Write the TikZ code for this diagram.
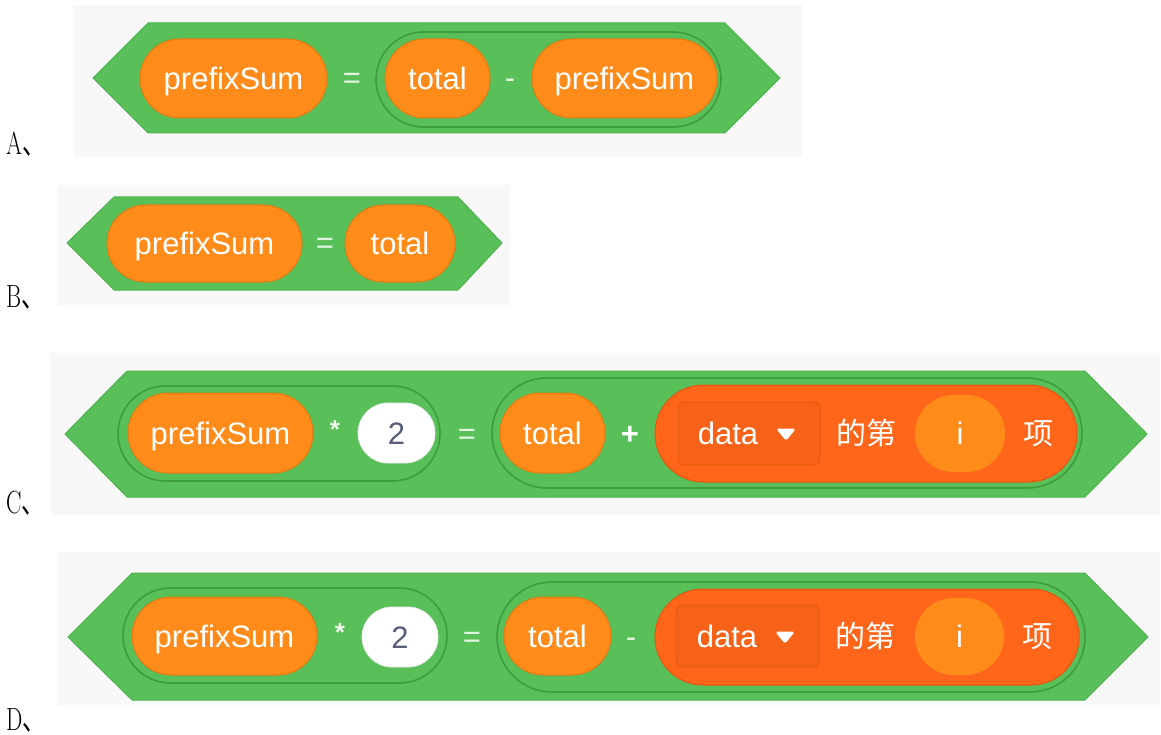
\documentclass[tikz,border=0pt]{standalone}
\usepackage{graphicx}
\usepackage{fontspec}
\newfontfamily\blk{Liberation Sans}
\newfontfamily\cjk{Noto Sans CJK SC}
\usetikzlibrary{shapes.misc}
\definecolor{panelbg}{HTML}{F8F8F8}
\definecolor{opgreen}{HTML}{59C059}
\definecolor{hexedge}{HTML}{4DB24D}
\definecolor{grpedge}{HTML}{3E9C3E}
\definecolor{varorange}{HTML}{FF8C1A}
\definecolor{varedge}{HTML}{E27A10}
\definecolor{listorange}{HTML}{FF661A}
\definecolor{listedge}{HTML}{E65510}
\definecolor{ddfill}{HTML}{F76219}
\definecolor{ddedge}{HTML}{E0560F}
\definecolor{numtext}{HTML}{575E75}
\newcommand\blkfont{\blk\fontsize{31}{31}\selectfont}
\newcommand\cjkfont{\cjk\fontsize{30}{30}\selectfont}
\tikzset{
  bgpanel/.style={fill=panelbg, draw=none},
  hexblock/.style={fill=opgreen, draw=hexedge, line width=1pt, line join=miter},
  grp/.style={rounded rectangle, fill=opgreen, draw=grpedge, line width=1.6pt, inner sep=0pt},
  txtbox/.style={text height=28pt, text depth=6pt, inner sep=0pt},
  varpill/.style={rounded rectangle, fill=varorange, draw=varedge, line width=1pt, txtbox, text=white, font=\blkfont},
  numpill/.style={rounded rectangle, fill=white, draw=black!8, line width=0.8pt, txtbox, text=numtext, font=\blkfont},
  listpill/.style={rounded rectangle, fill=listorange, draw=listedge, line width=1pt, inner sep=0pt},
  ddbox/.style={rectangle, rounded corners=6pt, fill=ddfill, draw=ddedge, line width=0.8pt, inner sep=0pt},
  optext/.style={txtbox, text=white!82!opgreen, font=\blkfont},
  optextb/.style={txtbox, text=white, font=\blk\bfseries\fontsize{31}{31}\selectfont},
  startext/.style={txtbox, text=white!90!opgreen, font=\blk\bfseries\fontsize{26}{26}\selectfont},
  wtext/.style={txtbox, text=white, font=\blkfont},
  cjktext/.style={txtbox, text=white, font=\cjkfont},
  ddtri/.style={fill=white, draw=white, line width=1pt, line join=round, rounded corners=1.5pt},
  lbl/.style={anchor=base west, inner sep=0pt, font=\fontsize{32}{32}\selectfont}
}
\begin{document}
\begin{tikzpicture}[x=1pt,y=-1pt]
\useasboundingbox[fill=white] (0,0) rectangle (1161,735);

% ---------- A ----------
\fill[bgpanel] (73,5) rectangle (802,157);
\draw[hexblock] (93,78) -- (148,23) -- (725,23) -- (780,78) -- (725,133) -- (148,133) -- cycle;
\node[grp, minimum width=345pt, minimum height=95pt] (Agrp) at (548.5,79.5) {};
\node[varpill, minimum width=187pt, minimum height=79pt] (Ap) at (233.5,78.5) {prefixSum};
\node[optext] (Aeq) at (352,78) {=};
\node[varpill, minimum width=105pt, minimum height=79pt] (At) at (437.5,78.5) {total};
\node[optext] (Amin) at (510,78) {-};
\node[varpill, minimum width=185pt, minimum height=79pt] (Ap2) at (624.5,78.5) {prefixSum};
\node[lbl] (LA) at (6,155) {\scalebox{0.72}[1]{A{\cjk 、}}};

% ---------- B ----------
\fill[bgpanel] (57,185) rectangle (510,305);
\draw[hexblock] (67,243) -- (114,197) -- (458,197) -- (502,243) -- (458,290) -- (114,290) -- cycle;
\node[varpill, minimum width=195pt, minimum height=77pt] (Bp) at (204.5,243.5) {prefixSum};
\node[optext] (Beq) at (325,243) {=};
\node[varpill, minimum width=110pt, minimum height=77pt] (Bt) at (400,243.5) {total};
\node[lbl] (LB) at (6,307) {\scalebox{0.72}[1]{B{\cjk 、}}};

% ---------- C ----------
\fill[bgpanel] (50,353) rectangle (1160,515);
\draw[hexblock] (65,434) -- (127,371) -- (1085,371) -- (1147,434) -- (1085,497) -- (127,497) -- cycle;
\node[grp, minimum width=322pt, minimum height=95pt] (Cgl) at (279,433.5) {};
\node[varpill, minimum width=185pt, minimum height=80pt] (Cp) at (220.5,433) {prefixSum};
\node[startext] (Cst) at (335,427) {*};
\node[numpill, minimum width=77pt, minimum height=60pt] (Cn) at (396.5,433) {2};
\node[optext] (Ceq) at (467,433) {=};
\node[grp, minimum width=590pt, minimum height=110pt] (Cgr) at (787,433) {};
\node[varpill, minimum width=105pt, minimum height=80pt] (Ct) at (552.5,433) {total};
\node[optextb] (Cplus) at (630,433) {+};
\node[listpill, minimum width=422pt, minimum height=97pt] (Cl) at (866,433.5) {};
\node[ddbox, minimum width=142pt, minimum height=63pt] (Cdd) at (749,433.5) {};
\node[wtext] (Cdata) at (728,433) {data};
\draw[ddtri] (777,429) -- (795,429) -- (786,440) -- cycle;
\node[cjktext] (Cdi) at (866,433) {的第};
\node[varpill, draw=none, minimum width=90pt, minimum height=77pt] (Ci) at (960,433.5) {i};
\node[cjktext] (Cxiang) at (1038,433) {项};
\node[lbl] (LC) at (6,513) {\scalebox{0.72}[1]{C{\cjk 、}}};

% ---------- D ----------
\fill[bgpanel] (57,552) rectangle (1160,705);
\draw[hexblock] (68,637) -- (132,573) -- (1085,573) -- (1148,637) -- (1085,700) -- (132,700) -- cycle;
\node[grp, minimum width=324pt, minimum height=95pt] (Dgl) at (285,635.5) {};
\node[varpill, minimum width=185pt, minimum height=78pt] (Dp) at (224.5,636) {prefixSum};
\node[startext] (Dst) at (340,630) {*};
\node[numpill, minimum width=76pt, minimum height=60pt] (Dn) at (400,637) {2};
\node[optext] (Deq) at (472,636) {=};
\node[grp, minimum width=588pt, minimum height=110pt] (Dgr) at (791,637) {};
\node[varpill, minimum width=107pt, minimum height=78pt] (Dt) at (557.5,636) {total};
\node[optext] (Dmin) at (631,636) {-};
\node[listpill, minimum width=424pt, minimum height=96pt] (Dl) at (867,637) {};
\node[ddbox, minimum width=143pt, minimum height=62pt] (Ddd) at (747.5,636) {};
\node[wtext] (Ddata) at (727,636) {data};
\draw[ddtri] (776,632) -- (794,632) -- (785,643) -- cycle;
\node[cjktext] (Ddi) at (865,636) {的第};
\node[varpill, draw=none, minimum width=89pt, minimum height=77pt] (Di) at (959.5,636.5) {i};
\node[cjktext] (Dxiang) at (1037,636) {项};
\node[lbl] (LD) at (6,730) {\scalebox{0.72}[1]{D{\cjk 、}}};
\end{tikzpicture}
\end{document}
